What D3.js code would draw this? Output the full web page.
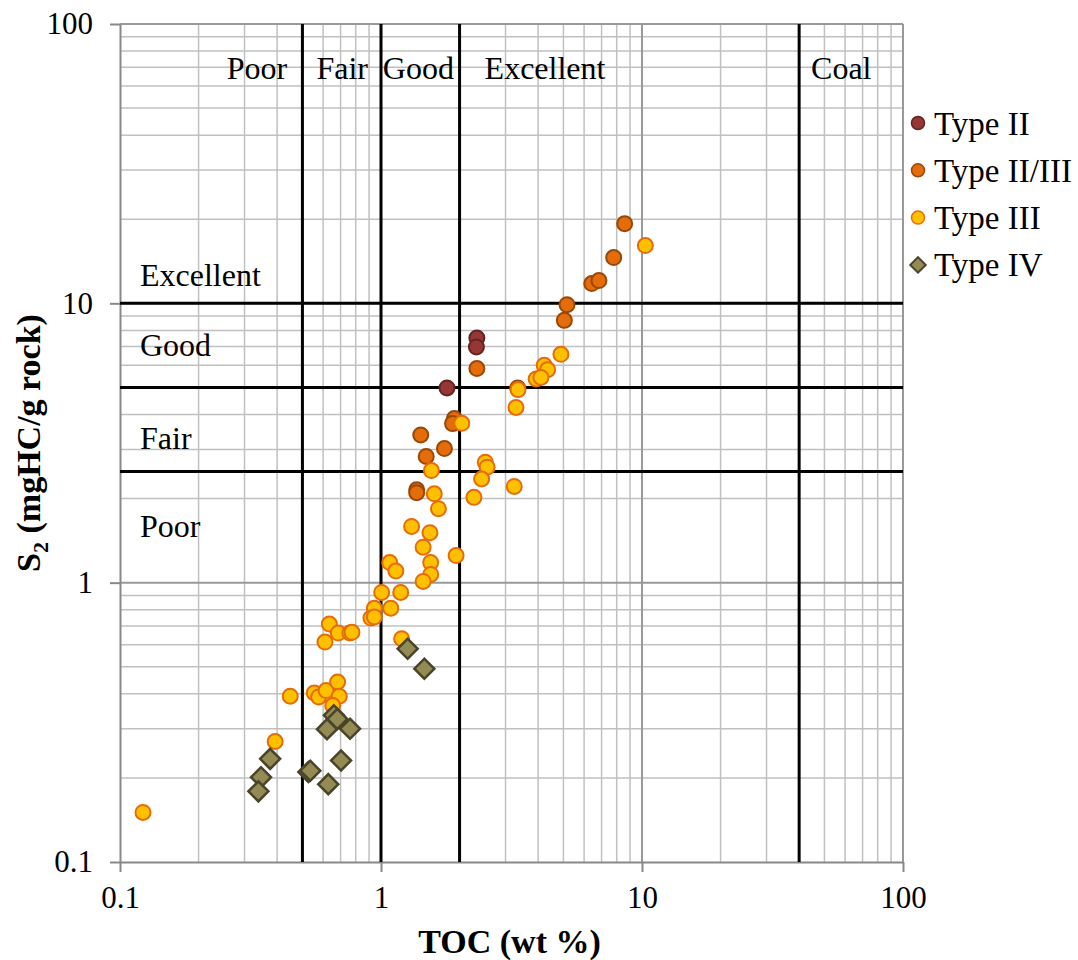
<!DOCTYPE html>
<html>
<head>
<meta charset="utf-8">
<script src="https://cdn.jsdelivr.net/npm/d3@7"></script>
<style>
  body { margin: 0; background: #fff; }
  svg text { font-family: "Liberation Serif", "Times New Roman", serif; }
</style>
</head>
<body>
<script>
(function(){
    "use strict";

    // TOC (wt %) and S2 (mgHC/g rock)
    const typeIIToc = [2.33, 2.32, 1.79];
    const typeIIS2  = [7.52, 6.98, 4.98];

    const typeIIIIIToc = [2.33, 1.42, 1.75, 1.49, 1.91, 1.88, 1.37, 1.37, 3.34, 5.04, 5.16, 6.42, 6.84, 7.79, 8.58];
    const typeIIIIIS2  = [5.84, 3.38, 3.02, 2.83, 3.87, 3.71, 2.15, 2.10, 4.98, 8.69, 9.89, 11.77, 12.06, 14.58, 19.29];

    const typeIIIToc = [10.3, 4.89, 4.22, 4.35, 3.93, 4.10, 3.35, 3.29, 2.04, 2.51, 2.55, 2.43, 3.24, 2.27,
        1.56, 1.60, 1.66, 1.31, 1.54, 1.45, 1.94, 1.55, 1.55, 1.45, 1.08, 1.14, 1.006, 1.19, 1.09, 0.943,
        0.915, 0.943, 1.20, 0.634, 0.686, 0.76, 0.774, 0.61, 0.449, 0.555, 0.577, 0.616, 0.682, 0.692,
        0.653, 0.393, 0.1225];
    const typeIIIS2 = [16.1, 6.57, 6.00, 5.79, 5.36, 5.43, 4.91, 4.24, 3.72, 2.70, 2.59, 2.35, 2.21, 2.02,
        2.52, 2.08, 1.84, 1.59, 1.51, 1.34, 1.25, 1.18, 1.07, 1.01, 1.18, 1.10, 0.923, 0.923, 0.81, 0.81,
        0.747, 0.754, 0.63, 0.711, 0.66, 0.66, 0.664, 0.613, 0.392, 0.403, 0.39, 0.411, 0.441, 0.392,
        0.363, 0.27, 0.1505];

    const typeIVToc = [1.265, 1.466, 0.66, 0.68, 0.621, 0.761, 0.703, 0.527, 0.536, 0.628, 0.376, 0.347, 0.339];
    const typeIVS2  = [0.58, 0.492, 0.335, 0.325, 0.299, 0.30, 0.231, 0.21, 0.212, 0.19, 0.234, 0.201, 0.179];

    const xTicks = [0.1, 1, 10, 100];
    const yTicks = [0.1, 1, 10, 100];
    const tocLimits = [0.5, 1, 2, 40];
    const s2Limits = [2.5, 5, 10];
    const topLabels = [["Poor", 0.335], ["Fair", 0.71], ["Good", 1.39], ["Excellent", 4.25], ["Coal", 58]];
    const sideLabels = [["Excellent", 12.7], ["Good", 7.1], ["Fair", 3.3], ["Poor", 1.6]];

    const series = [
        {name: "Type II", toc: typeIIToc, s2: typeIIS2, fill: "#953735", stroke: "#632523", shape: "circle"},
        {name: "Type II/III", toc: typeIIIIIToc, s2: typeIIIIIS2, fill: "#E46C0A", stroke: "#984807", shape: "circle"},
        {name: "Type III", toc: typeIIIToc, s2: typeIIIS2, fill: "#FFC000", stroke: "#E46C0A", shape: "circle"},
        {name: "Type IV", toc: typeIVToc, s2: typeIVS2, fill: "#948A54", stroke: "#4A452A", shape: "diamond"}
    ];

    let margin = {top: 24, right: 175, bottom: 98, left: 120};
    let width = 1078 - margin.left - margin.right;
    let height = 960 - margin.top - margin.bottom;

    let svg = d3.select("body").append("svg")
        .attr("width", 1078)
        .attr("height", 960);
    let display = svg.append("g")
        .attr("transform", "translate(" + margin.left + "," + margin.top + ")");

    let xScale = d3.scaleLog().domain([0.1, 100]).range([0, width]);
    let yScale = d3.scaleLog().domain([0.1, 100]).range([height, 0]);

    // grid
    let minor = [];
    [0.1, 1, 10].forEach(d => { for (let k = 2; k <= 9; k++) minor.push(d * k); });
    display.selectAll(".vminor").data(minor).enter().append("line")
        .attr("x1", d => xScale(d)).attr("x2", d => xScale(d))
        .attr("y1", 0).attr("y2", height)
        .attr("stroke", "#c0c0c0").attr("stroke-width", 1.5);
    display.selectAll(".hminor").data(minor).enter().append("line")
        .attr("y1", d => yScale(d)).attr("y2", d => yScale(d))
        .attr("x1", 0).attr("x2", width)
        .attr("stroke", "#c0c0c0").attr("stroke-width", 1.5);
    display.selectAll(".vmajor").data([1, 10, 100]).enter().append("line")
        .attr("x1", d => xScale(d)).attr("x2", d => xScale(d))
        .attr("y1", 0).attr("y2", height)
        .attr("stroke", "#999").attr("stroke-width", 2);
    display.selectAll(".hmajor").data([1, 10, 100]).enter().append("line")
        .attr("y1", d => yScale(d)).attr("y2", d => yScale(d))
        .attr("x1", 0).attr("x2", width)
        .attr("stroke", "#999").attr("stroke-width", 2);

    // axes
    let fmt = d => String(d);
    let xAxis = display.append("g")
        .attr("transform", "translate(0," + height + ")")
        .call(d3.axisBottom(xScale).tickValues(xTicks).tickFormat(fmt).tickSize(10).tickSizeOuter(0));
    let yAxis = display.append("g")
        .call(d3.axisLeft(yScale).tickValues(yTicks).tickFormat(fmt).tickSize(10).tickSizeOuter(0));
    [xAxis, yAxis].forEach(ax => {
        ax.select(".domain").attr("stroke", "#888").attr("stroke-width", 2);
        ax.selectAll(".tick line").attr("stroke", "#888").attr("stroke-width", 2);
        ax.selectAll(".tick text")
            .attr("font-family", "Liberation Serif, Times New Roman, serif")
            .attr("font-size", 31).attr("fill", "#000");
    });
    xAxis.selectAll(".tick text").attr("dy", "1.05em");
    yAxis.selectAll(".tick text").attr("x", -27);

    // classification limits
    display.selectAll(".tocLim").data(tocLimits).enter().append("line")
        .attr("x1", d => xScale(d)).attr("x2", d => xScale(d))
        .attr("y1", 0).attr("y2", height)
        .attr("stroke", "#000").attr("stroke-width", 3);
    display.selectAll(".s2Lim").data(s2Limits).enter().append("line")
        .attr("y1", d => yScale(d)).attr("y2", d => yScale(d))
        .attr("x1", 0).attr("x2", width)
        .attr("stroke", "#000").attr("stroke-width", 3);

    display.selectAll(".topLab").data(topLabels).enter().append("text")
        .attr("x", d => xScale(d[1])).attr("y", 55)
        .attr("text-anchor", "middle").attr("font-size", 32)
        .text(d => d[0]);
    display.selectAll(".sideLab").data(sideLabels).enter().append("text")
        .attr("x", 20).attr("y", d => yScale(d[1]))
        .attr("dy", "0.35em").attr("font-size", 32)
        .text(d => d[0]);

    // points
    let diamond = d3.symbol().type(d3.symbolSquare).size(200);
    series.forEach(s => {
        let pts = s.toc.map((t, i) => [t, s.s2[i]]);
        if (s.shape === "circle") {
            display.selectAll(null).data(pts).enter().append("circle")
                .attr("cx", d => xScale(d[0])).attr("cy", d => yScale(d[1]))
                .attr("r", 7.5)
                .attr("fill", s.fill).attr("stroke", s.stroke).attr("stroke-width", 2);
        } else {
            display.selectAll(null).data(pts).enter().append("path")
                .attr("d", diamond)
                .attr("transform", d => "translate(" + xScale(d[0]) + "," + yScale(d[1]) + ") rotate(45)")
                .attr("fill", s.fill).attr("stroke", s.stroke).attr("stroke-width", 2.5);
        }
    });

    // legend
    let legend = svg.append("g").attr("transform", "translate(918,123)");
    series.forEach((s, i) => {
        let g = legend.append("g").attr("transform", "translate(0," + (i * 47.3) + ")");
        if (s.shape === "circle") {
            g.append("circle").attr("r", 6.5)
                .attr("fill", s.fill).attr("stroke", s.stroke).attr("stroke-width", 1.5);
        } else {
            g.append("path").attr("d", d3.symbol().type(d3.symbolSquare).size(120))
                .attr("transform", "rotate(45)")
                .attr("fill", s.fill).attr("stroke", s.stroke).attr("stroke-width", 2);
        }
        g.append("text").attr("x", 16).attr("dy", "0.35em")
            .attr("font-size", 33).text(s.name);
    });

    // axis titles
    svg.append("text")
        .attr("x", margin.left + width / 2 - 2).attr("y", 953)
        .attr("text-anchor", "middle").attr("font-size", 34).attr("font-weight", "bold")
        .text("TOC (wt %)");
    let yt = svg.append("text")
        .attr("transform", "translate(40," + (margin.top + height / 2) + ") rotate(-90)")
        .attr("text-anchor", "middle").attr("font-size", 34).attr("font-weight", "bold");
    yt.append("tspan").text("S");
    yt.append("tspan").attr("font-size", 22).attr("dy", 8).text("2");
    yt.append("tspan").attr("dy", -8).text(" (mgHC/g rock)");
})();
</script>
</body>
</html>
